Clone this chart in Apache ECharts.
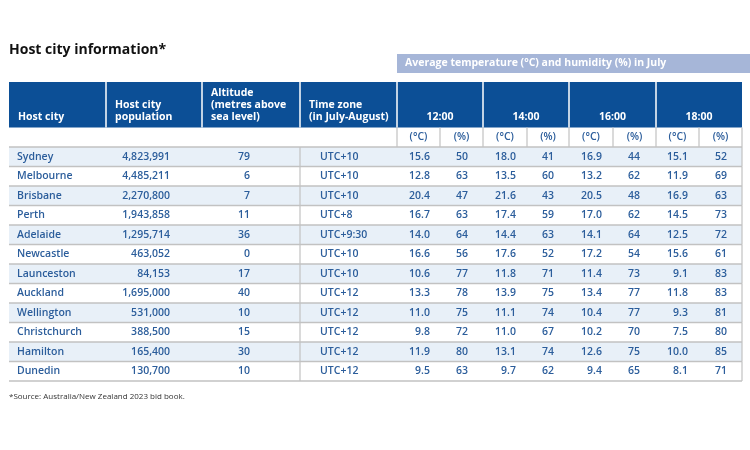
<!DOCTYPE html>
<html>
<head>
<meta charset="utf-8">
<title>Host city information</title>
<script src="https://cdn.jsdelivr.net/npm/echarts@6/dist/echarts.min.js"></script>
<style>
html, body { margin: 0; padding: 0; background: #fff; }
#main { width: 750px; height: 450px; }
</style>
</head>
<body>
<div id="main"></div>
<script>
// table content
var cities = ['Sydney', 'Melbourne', 'Brisbane', 'Perth', 'Adelaide', 'Newcastle', 'Launceston', 'Auckland', 'Wellington', 'Christchurch', 'Hamilton', 'Dunedin']
var population = [4823991, 4485211, 2270800, 1943858, 1295714, 463052, 84153, 1695000, 531000, 388500, 165400, 130700]
var altitude = [79, 6, 7, 11, 36, 0, 17, 40, 10, 15, 30, 10]
var timeZone = ['UTC+10', 'UTC+10', 'UTC+10', 'UTC+8', 'UTC+9:30', 'UTC+10', 'UTC+10', 'UTC+12', 'UTC+12', 'UTC+12', 'UTC+12', 'UTC+12']
var temp1200 = [15.6, 12.8, 20.4, 16.7, 14.0, 16.6, 10.6, 13.3, 11.0, 9.8, 11.9, 9.5]
var hum1200 = [50, 63, 47, 63, 64, 56, 77, 78, 75, 72, 80, 63]
var temp1400 = [18.0, 13.5, 21.6, 17.4, 14.4, 17.6, 11.8, 13.9, 11.1, 11.0, 13.1, 9.7]
var hum1400 = [41, 60, 43, 59, 63, 52, 71, 75, 74, 67, 74, 62]
var temp1600 = [16.9, 13.2, 20.5, 17.0, 14.1, 17.2, 11.4, 13.4, 10.4, 10.2, 12.6, 9.4]
var hum1600 = [44, 62, 48, 62, 64, 54, 73, 77, 77, 70, 75, 65]
var temp1800 = [15.1, 11.9, 16.9, 14.5, 12.5, 15.6, 9.1, 11.8, 9.3, 7.5, 10.0, 8.1]
var hum1800 = [52, 69, 63, 73, 72, 61, 83, 83, 81, 80, 85, 71]
var headLabels = ['Host city', 'Host city\npopulation', 'Altitude\n(metres above\nsea level)', 'Time zone\n(in July-August)']
var timeLabels = ['12:00', '14:00', '16:00', '18:00']
var unitLabels = ['(°C)', '(%)']
var groupTitle = 'Average temperature (°C) and humidity (%) in July'

// layout (x axis units, y axis rows)
var colEdge = [0, 97, 193, 291, 388, 431, 474, 518, 560, 604, 647, 690, 733]
var valueRight = [421, 459, 507, 545, 593, 631, 679, 718]
var boxTop = -4.77, boxBottom = -3.8, headTop = -3.33, unitTop = -1

var DARK = '#0c4f96'
var LIGHT = '#a6b6d8'
var STRIPE = '#e8f0f8'
var INK = '#2b5d9b'
var RULE = '#c2c2c2'
var FONT = '"Open Sans", "Noto Sans", sans-serif'

var tempCols = [temp1200, temp1400, temp1600, temp1800]
var humCols = [hum1200, hum1400, hum1600, hum1800]

function txt (s, x, y, align, opts) {
  opts = opts || {}
  return {
    type: 'text',
    style: {
      text: s, x: x, y: y, align: align, verticalAlign: opts.va || 'middle',
      fill: opts.fill || INK, fontSize: opts.size || 10.5, fontFamily: FONT,
      fontWeight: opts.weight || 600, lineHeight: opts.lh || 12
    }
  }
}

function hline (x0, x1, y, color, w) {
  return {type: 'line', shape: {x1: x0, y1: y, x2: x1, y2: y}, style: {stroke: color, lineWidth: w}}
}

function vline (x, y0, y1, color, w) {
  return {type: 'line', shape: {x1: x, y1: y0, x2: x, y2: y1}, style: {stroke: color, lineWidth: w}}
}

function renderRow (params, api) {
  var i = api.value(1)
  var tl = api.coord([0, i])
  var br = api.coord([colEdge[12], i + 1])
  var cy = (tl[1] + br[1]) / 2
  var px = function (u) { return api.coord([u, i])[0] }
  var kids = [{
    type: 'rect',
    shape: {x: tl[0], y: tl[1], width: br[0] - tl[0], height: br[1] - tl[1]},
    style: {fill: i % 2 === 0 ? STRIPE : '#ffffff'}
  }]
  kids.push(hline(tl[0], br[0], tl[1], RULE, 1.5))
  if (i === cities.length - 1) kids.push(hline(tl[0], br[0], br[1], RULE, 1.5))
  kids.push(vline(px(colEdge[3]), tl[1], br[1], RULE, 1.2))
  kids.push(vline(br[0], tl[1], br[1], RULE, 1.2))
  kids.push(txt(cities[i], px(8), cy, 'left'))
  kids.push(txt(population[i].toLocaleString('en-US'), px(161), cy, 'right'))
  kids.push(txt(String(altitude[i]), px(241), cy, 'right'))
  kids.push(txt(timeZone[i], px(311), cy, 'left'))
  for (var k = 0; k < 4; k++) {
    kids.push(txt(tempCols[k][i].toFixed(1), px(valueRight[k * 2]), cy, 'right'))
    kids.push(txt(String(humCols[k][i]), px(valueRight[k * 2 + 1]), cy, 'right'))
  }
  return {type: 'group', children: kids}
}

function renderHeader (params, api) {
  var pt = function (u, r) { return api.coord([u, r]) }
  var kids = []
  // light group title box
  var b0 = pt(colEdge[4], boxTop), b1 = pt(colEdge[12] + 10, boxBottom)
  kids.push({type: 'rect', shape: {x: b0[0], y: b0[1], width: b1[0] - b0[0], height: b1[1] - b0[1]}, style: {fill: LIGHT}})
  kids.push(txt(groupTitle, b0[0] + 8, (b0[1] + b1[1]) / 2, 'left', {fill: '#ffffff', weight: 'bold'}))
  // dark header band
  var h0 = pt(0, headTop), h1 = pt(colEdge[12], unitTop)
  kids.push({type: 'rect', shape: {x: h0[0], y: h0[1], width: h1[0] - h0[0], height: h1[1] - h0[1]}, style: {fill: DARK}})
  var seps = [1, 2, 3, 4, 6, 8, 10]
  seps.forEach(function (c) {
    kids.push(vline(pt(colEdge[c], 0)[0], h0[1], h1[1], '#ffffff', 1.5))
  })
  headLabels.forEach(function (s, c) {
    kids.push(txt(s, pt(colEdge[c] + 9, 0)[0], h1[1] - 4, 'left', {fill: '#ffffff', weight: 'bold', va: 'bottom'}))
  })
  timeLabels.forEach(function (s, k) {
    var cx = (pt(colEdge[4 + k * 2], 0)[0] + pt(colEdge[6 + k * 2], 0)[0]) / 2
    kids.push(txt(s, cx, h1[1] - 10, 'center', {fill: '#ffffff', weight: 'bold'}))
  })
  // units row
  var u0 = pt(colEdge[4], unitTop), u1 = pt(colEdge[12], 0)
  for (var c = 4; c <= 12; c++) {
    kids.push(vline(pt(colEdge[c], 0)[0], u0[1], u1[1], RULE, 1.2))
  }
  for (var k = 0; k < 8; k++) {
    var cx = (pt(colEdge[4 + k], 0)[0] + pt(colEdge[5 + k], 0)[0]) / 2
    kids.push(txt(unitLabels[k % 2], cx, (u0[1] + u1[1]) / 2, 'center'))
  }
  return {type: 'group', children: kids}
}

var chart = echarts.init(document.getElementById('main'))
chart.setOption({
  animation: false,
  title: [{
    text: 'Host city information*',
    left: 9, top: 43, padding: 0,
    textStyle: {fontSize: 14, fontWeight: 'bold', color: '#111', fontFamily: FONT}
  }, {
    text: '*Source: Australia/New Zealand 2023 bid book.',
    left: 9, top: 393, padding: 0,
    textStyle: {fontSize: 8, fontWeight: 'normal', color: '#333', fontFamily: FONT}
  }],
  grid: {left: 9, right: 8, top: 54, bottom: 69},
  xAxis: {type: 'value', min: 0, max: colEdge[12], show: false},
  yAxis: {type: 'value', inverse: true, min: boxTop, max: cities.length, show: false},
  series: [{
    type: 'custom',
    name: 'header',
    renderItem: renderHeader,
    data: [[0, unitTop]],
    encode: {x: 0, y: 1},
    silent: true
  }, {
    type: 'custom',
    name: 'rows',
    renderItem: renderRow,
    data: cities.map(function (c, i) { return [0, i] }),
    encode: {x: 0, y: 1},
    silent: true
  }]
})
</script>
</body>
</html>
